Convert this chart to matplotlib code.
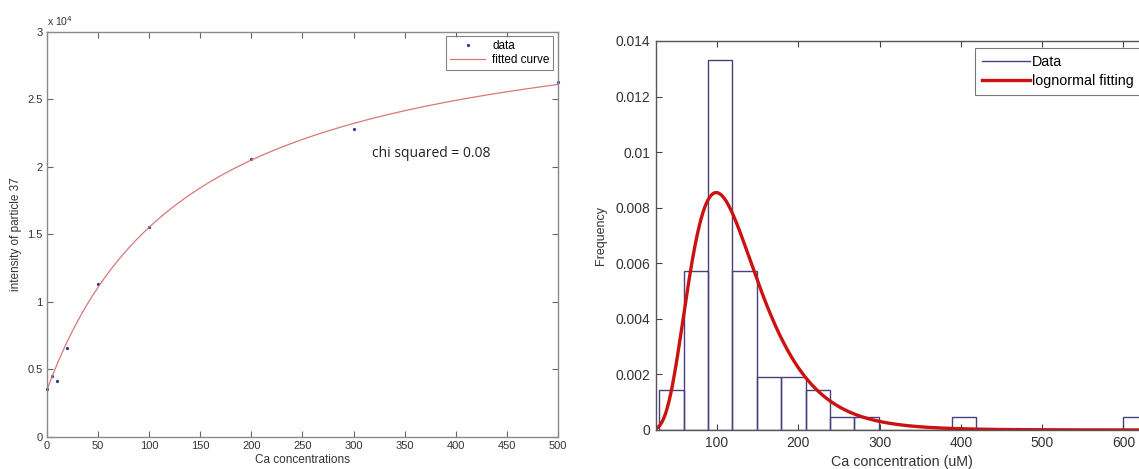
import numpy as np
import matplotlib
matplotlib.use("Agg")
import matplotlib.pyplot as plt
from matplotlib.ticker import FuncFormatter

# =================================
# DATA
# =================================

# left panel: binding curve of particle 37
ca_conc = [0, 5, 10, 20, 50, 100, 200, 300, 500]
intensity = [3540, 4460, 4140, 6580, 11330, 15500, 20570, 22770, 26300]

# fitted curve parameters (baseline + saturating term)
fit_base = 3400
fit_bmax = 29040
fit_kd = 140
chi_sq = 0.08

# right panel: histogram of Ca concentration (counts per 30 uM bin)
bin_start = 29
bin_width = 30
bin_counts = [3, 12, 28, 12, 4, 4, 3, 1, 1, 0, 0, 0, 1, 0, 0, 0, 0, 0, 0, 1]

# lognormal fit parameters
ln_mu = 4.78
ln_sigma = 0.43

plt.rcParams["font.family"] = ["Liberation Sans", "DejaVu Sans"]

fig = plt.figure(figsize=(11.39, 4.69), dpi=100)

# =================================
# LEFT PANEL
# =================================

ax1 = fig.add_axes([0.041, 0.069, 0.449, 0.8635])

xf = np.linspace(0, 500, 400)
yf = fit_base + fit_bmax * xf / (fit_kd + xf)

ax1.plot(ca_conc, intensity, ".", color="#2a3a8a", markersize=2.6,
         clip_on=False, label="data")
ax1.plot(xf, yf, "-", color="#d9777a", linewidth=0.9, label="fitted curve")

ax1.set_xlim(0, 500)
ax1.set_ylim(0, 30000)
ax1.set_xticks(np.arange(0, 501, 50))
ax1.set_yticks(np.arange(0, 30001, 5000))
ax1.yaxis.set_major_formatter(FuncFormatter(lambda v, p: "%g" % (v / 1e4)))
ax1.tick_params(direction="in", length=4, top=True, right=True,
                labelsize=8, colors="#666666", labelcolor="#333333", pad=3)
for s in ax1.spines.values():
    s.set_color("#8a8a8a")
    s.set_linewidth(1.0)

ax1.set_xlabel("Ca concentrations", fontsize=8.5, color="#333333", labelpad=2)
ax1.set_ylabel("intensity of particle 37", fontsize=8.5, color="#333333", labelpad=4)
ax1.text(0.0, 1.008, r"x 10$^{4}$", transform=ax1.transAxes, fontsize=7.5,
         color="#333333", ha="left", va="bottom")

ax1.text(318, 21000, "chi squared = %.2f" % chi_sq, fontsize=10,
         family=["Open Sans", "DejaVu Sans"], color="#222222", va="center")

leg1 = ax1.legend(loc="upper right", fontsize=8.5, frameon=True, fancybox=False,
                  borderpad=0.3, labelspacing=0.2, handlelength=3.0,
                  handletextpad=0.6, numpoints=1, borderaxespad=0.4)
leg1.get_frame().set_edgecolor("#666666")
leg1.get_frame().set_linewidth(0.8)

# =================================
# RIGHT PANEL
# =================================

ax2 = fig.add_axes([0.576, 0.0832, 0.431, 0.8294])

n_total = sum(bin_counts)
edges = bin_start + bin_width * np.arange(len(bin_counts) + 1)
density = np.array(bin_counts) / (n_total * bin_width)

ax2.bar(edges[:-1], density, width=bin_width, align="edge", fill=False,
        edgecolor="#4a3f7e", linewidth=1.0)

xl = np.linspace(25, 629, 600)
yl = np.exp(-(np.log(xl) - ln_mu) ** 2 / (2 * ln_sigma ** 2)) / (xl * ln_sigma * np.sqrt(2 * np.pi))
ax2.plot(xl, yl, "-", color="#cc1111", linewidth=2.4)

ax2.set_xlim(25, 629)
ax2.set_ylim(0, 0.014)
ax2.set_xticks(np.arange(100, 601, 100))
ax2.set_yticks(np.arange(0, 0.0141, 0.002))
ax2.yaxis.set_major_formatter(FuncFormatter(lambda v, p: "%g" % round(v, 4)))
ax2.tick_params(direction="in", length=4, top=True, right=True,
                labelsize=10, colors="#444444", labelcolor="#333333", pad=4)
for s in ax2.spines.values():
    s.set_color("#555555")
    s.set_linewidth(1.0)

ax2.set_xlabel("Ca concentration (uM)", fontsize=10.3, color="#333333", labelpad=4)
ax2.set_ylabel("Frequency", fontsize=9, color="#333333", labelpad=6)

h_data = plt.Line2D([], [], color="#4a3f7e", linewidth=1.0)
h_fit = plt.Line2D([], [], color="#cc1111", linewidth=2.4)
leg2 = ax2.legend([h_data, h_fit], ["Data", "lognormal fitting"],
                  loc="upper right", fontsize=10.3, frameon=True, fancybox=False,
                  borderpad=0.45, labelspacing=0.4, handlelength=3.4,
                  handletextpad=0.1, borderaxespad=0.5)
leg2.get_frame().set_edgecolor("#555555")
leg2.get_frame().set_linewidth(0.8)

fig.savefig("out.png", dpi=100)
print("Chart saved.")
